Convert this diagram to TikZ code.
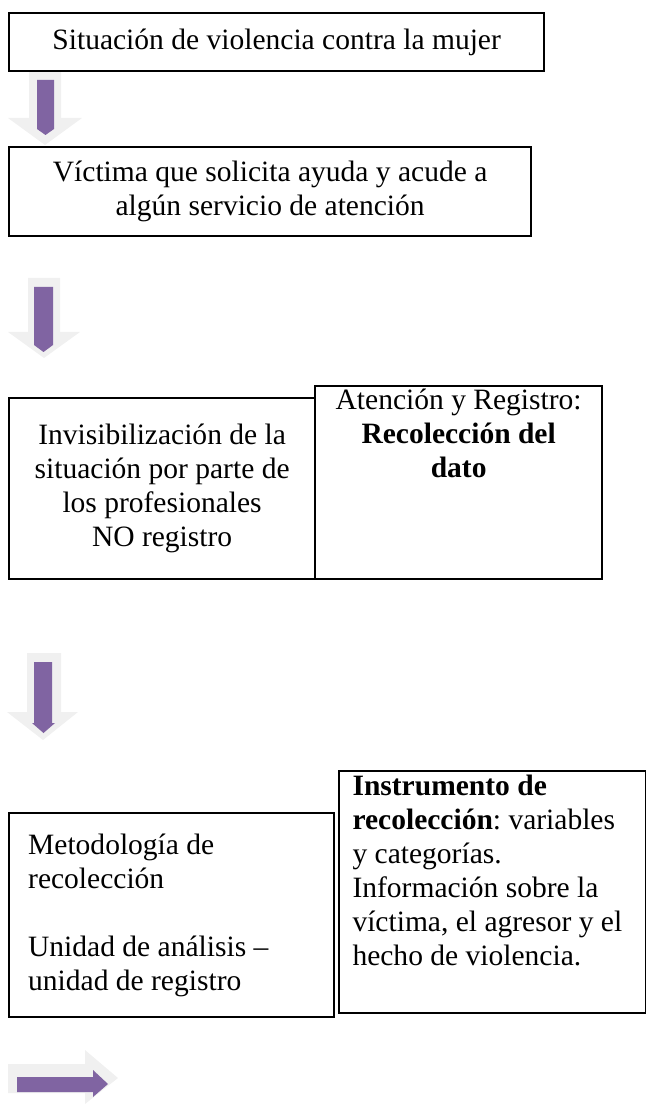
\documentclass[tikz,border=0pt]{standalone}
\usepackage{fontspec}
\setmainfont{Liberation Serif}
\frenchspacing
\definecolor{arrowpurple}{HTML}{8064A2}
\definecolor{arrowshade}{HTML}{F0F0F0}
\tikzset{
  box/.style={draw, line width=0.9pt, anchor=north west, inner sep=0pt},
  txt/.style={font=\fontsize{12}{13.8}\selectfont, align=center},
}

\begin{document}
\begin{tikzpicture}[x=0.4065pt, y=-0.4065pt]
        \useasboundingbox (0,0) rectangle (646,1104);

        % Draw the arrows
        \fill[arrowshade] (29,72) -- (61,72) -- (61,118) -- (82,118) -- (45,145) -- (8,118) -- (29,118) -- cycle;
        \fill[arrowpurple] (37,80) -- (54,80) -- (54,129) -- (45.5,135) -- (37,129) -- cycle;

        \fill[arrowshade] (28,278) -- (60,278) -- (60,332) -- (80,332) -- (44,358) -- (8,332) -- (28,332) -- cycle;
        \fill[arrowpurple] (34,287) -- (53,287) -- (53,345) -- (43.5,352) -- (34,345) -- cycle;

        \fill[arrowshade] (27,653) -- (61,653) -- (61,712) -- (78,712) -- (43,740) -- (7,712) -- (27,712) -- cycle;
        \fill[arrowpurple] (34,662) -- (52,662) -- (52,723) -- (55,723) -- (43.5,733) -- (32,723) -- (34,723) -- cycle;

        \fill[arrowshade] (8,1064) -- (85,1064) -- (85,1050) -- (118,1078) -- (85,1104) -- (85,1093) -- (8,1093) -- cycle;
        \fill[arrowpurple] (17,1077) -- (93,1077) -- (93,1070) -- (108,1084) -- (93,1097) -- (93,1092) -- (17,1092) -- cycle;

        % Define the nodes
        \node[box, txt, minimum width=217.5pt, minimum height=23.6pt] (situacion) at (8,12)
            {Situación de violencia contra la mujer};
        \node[box, txt, minimum width=212.2pt, minimum height=36.2pt] (victima) at (8,146)
            {Víctima que solicita ayuda y acude a\\ algún servicio de atención};

        \node[box, txt, minimum width=124.4pt, minimum height=73.6pt] (noregistro) at (8,397)
            {Invisibilización de la\\ situación por parte de\\ los profesionales\\ NO registro};
        \node[box, minimum width=116.7pt, minimum height=78.5pt] (registro) at (314,385) {};
        \node[txt, anchor=north, inner sep=0pt] (registrotext) at ([yshift=-1.5pt]registro.north)
            {Atención y Registro:\\ \textbf{Recolección del}\\ \textbf{dato}};

        \node[box, minimum width=132.1pt, minimum height=82.9pt] (metodologia) at (8,812) {};
        \node[txt, align=left, anchor=west, inner sep=0pt] (metodologiatext) at ([xshift=8pt]metodologia.west)
            {Metodología de\\ recolección\\[13.8pt] Unidad de análisis –\\ unidad de registro};
        \node[box, minimum width=124.8pt, minimum height=98.4pt] (instrumento) at (338,770) {};
        \node[txt, align=left, anchor=north west, inner sep=0pt] (instrumentotext) at ([xshift=5.7pt, yshift=-2pt]instrumento.north west)
            {\textbf{Instrumento de}\\ \textbf{recolección}: variables\\ y categorías.\\ Información sobre la\\ víctima, el agresor y el\\ hecho de violencia.};
    \end{tikzpicture}
\end{document}
